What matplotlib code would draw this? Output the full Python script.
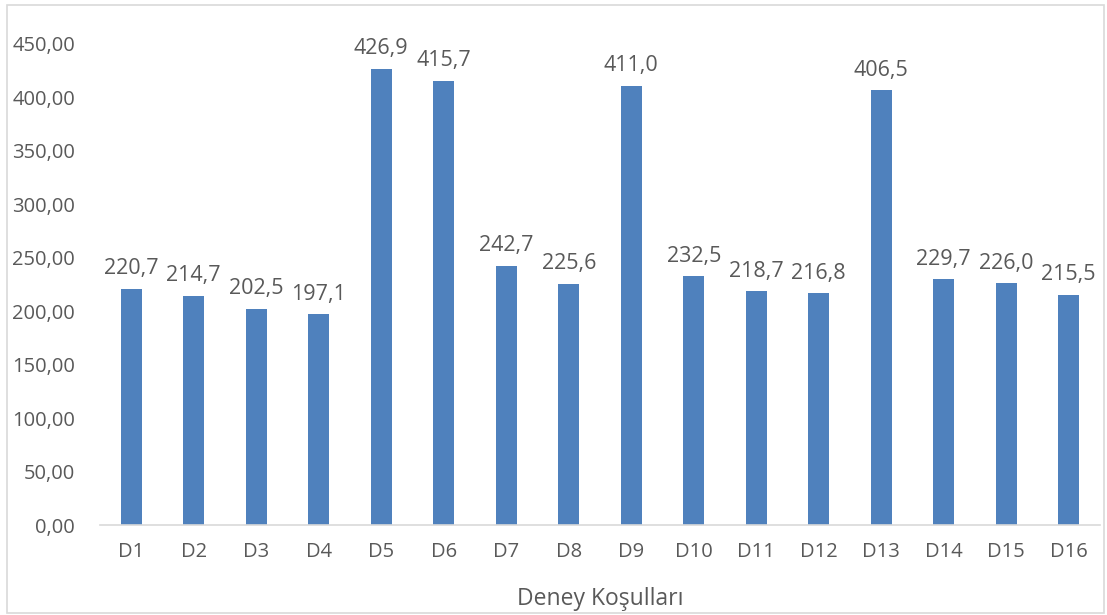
import matplotlib
matplotlib.use("Agg")
import matplotlib.pyplot as plt
from matplotlib.patches import Rectangle

categories = ["D1", "D2", "D3", "D4", "D5", "D6", "D7", "D8", "D9", "D10",
              "D11", "D12", "D13", "D14", "D15", "D16"]
values = [220.7, 214.7, 202.5, 197.1, 426.9, 415.7, 242.7, 225.6, 411.0, 232.5,
          218.7, 216.8, 406.5, 229.7, 226.0, 215.5]
yticks = [0, 50, 100, 150, 200, 250, 300, 350, 400, 450]

plt.rcParams['font.family'] = ['Open Sans', 'DejaVu Sans']
txt = '#595959'

fig = plt.figure(figsize=(11.07, 6.15), dpi=100)
ax = fig.add_axes([100/1107, 1-525/615, 1000/1107, (525-44)/615])

x = list(range(len(categories)))
bars = ax.bar(x, values, width=0.33, color='#4F81BD', zorder=2)
for xi, v in zip(x, values):
    ax.annotate(f"{v:.1f}".replace('.', ','), (xi, v), xytext=(0, 7),
                textcoords='offset points', ha='center', va='bottom',
                fontsize=15.5, color=txt)

ax.set_xlim(-0.5, len(categories) - 0.5)
ax.set_ylim(0, 450)
ax.set_yticks(yticks)
ax.set_yticklabels([f"{t:.2f}".replace('.', ',') for t in yticks])
ax.set_xticks(x)
ax.set_xticklabels(categories)
ax.tick_params(axis='both', length=0, labelsize=14.5, labelcolor=txt)
ax.tick_params(axis='y', pad=18)
ax.tick_params(axis='x', pad=12)
for s in ['top', 'right', 'left']:
    ax.spines[s].set_visible(False)
ax.spines['bottom'].set_color('#D9D9D9')
ax.spines['bottom'].set_linewidth(1.2)
ax.set_xlabel("Deney Koşulları", fontsize=16.5, color=txt, labelpad=18)

fig.add_artist(Rectangle((7/1107, 2/615), 1097/1107, 608/615, transform=fig.transFigure,
                         fill=False, edgecolor='#D9D9D9', linewidth=1.2))

fig.savefig("out.png", dpi=100)
